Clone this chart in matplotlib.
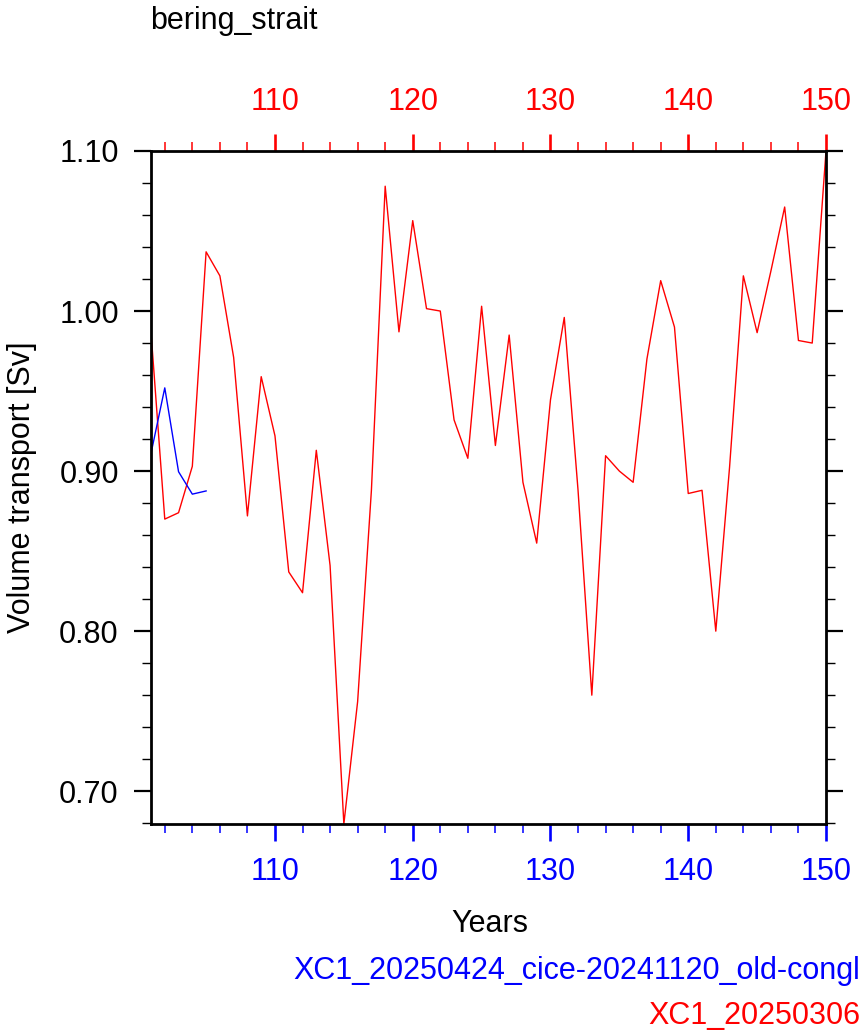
import numpy as np
import matplotlib
matplotlib.use("Agg")
import matplotlib.pyplot as plt
from matplotlib.ticker import MultipleLocator, FormatStrFormatter

plt.rcParams['font.family'] = ['Liberation Sans', 'DejaVu Sans']

# データ
years_red = list(range(101, 151))
transport_red = [0.987, 0.870, 0.874, 0.903, 1.037, 1.022, 0.971, 0.872, 0.959, 0.922,
                 0.837, 0.824, 0.913, 0.841, 0.6795, 0.756, 0.888, 1.078, 0.987, 1.0565,
                 1.0015, 1.000, 0.932, 0.908, 1.003, 0.916, 0.985, 0.893, 0.855, 0.9446,
                 0.996, 0.888, 0.760, 0.9096, 0.900, 0.893, 0.970, 1.019, 0.990, 0.886,
                 0.888, 0.800, 0.9025, 1.022, 0.9865, 1.025, 1.065, 0.9816, 0.980, 1.100]
years_blue = [101, 102, 103, 104, 105]
transport_blue = [0.911, 0.952, 0.8996, 0.8856, 0.8876]

title = "bering_strait"
label_blue = "XC1_20250424_cice-20241120_old-congl"
label_red = "XC1_20250306"

W, H = 865, 1036
fig = plt.figure(figsize=(W / 100, H / 100), dpi=100)
ax = fig.add_axes([151 / W, 1 - 824 / H, (826 - 151) / W, (824 - 151) / H])

ax.plot(years_red, transport_red, color='#ff0000', lw=1.0)
ax.plot(years_blue, transport_blue, color='#0000ff', lw=1.0)

allv = transport_red + transport_blue
ax.set_xlim(min(years_red), max(years_red))
ax.set_ylim(min(allv), max(allv))

fs = 22
for s in ax.spines.values():
    s.set_linewidth(2.0)

ax.xaxis.set_major_locator(MultipleLocator(10))
ax.xaxis.set_minor_locator(MultipleLocator(2))
ax.yaxis.set_major_locator(MultipleLocator(0.1))
ax.yaxis.set_minor_locator(MultipleLocator(0.02))
ax.yaxis.set_major_formatter(FormatStrFormatter('%.2f'))

ax.tick_params(axis='y', which='both', direction='out', left=True, right=True,
               labelleft=True, labelright=False, labelsize=fs, color='black')
ax.tick_params(axis='y', which='major', length=12.2, width=1.6, pad=11)
ax.tick_params(axis='y', which='minor', length=6.5, width=1.0)

ax.tick_params(axis='x', which='both', direction='out', bottom=True, top=False,
               labelbottom=True, labeltop=False, labelsize=fs,
               color='#0000ff', labelcolor='#0000ff')
ax.tick_params(axis='x', which='major', length=12.5, width=1.9, pad=11)
ax.tick_params(axis='x', which='minor', length=6.5, width=1.1)

top = ax.secondary_xaxis('top')
top.xaxis.set_major_locator(MultipleLocator(10))
top.xaxis.set_minor_locator(MultipleLocator(2))
top.spines['top'].set_visible(False)
top.tick_params(axis='x', which='both', direction='out', labelsize=fs,
                color='#ff0000', labelcolor='#ff0000')
top.tick_params(axis='x', which='major', length=12.5, width=1.9, pad=12)
top.tick_params(axis='x', which='minor', length=6.5, width=1.1)

fig.text(150 / W, 1 - 29.5 / H, title, fontsize=fs, ha='left', va='baseline')
fig.text(490 / W, 1 - 931.7 / H, "Years", fontsize=fs, ha='center', va='baseline')
fig.text(30 / W, 1 - 487.5 / H, "Volume transport [Sv]", fontsize=fs,
         rotation=90, rotation_mode='anchor', ha='center', va='baseline')
fig.text(860 / W, 1 - 979 / H, label_blue, fontsize=fs, color='#0000ff',
         ha='right', va='baseline')
fig.text(860 / W, 1 - 1024 / H, label_red, fontsize=fs, color='#ff0000',
         ha='right', va='baseline')

fig.savefig("out.png", dpi=100)
